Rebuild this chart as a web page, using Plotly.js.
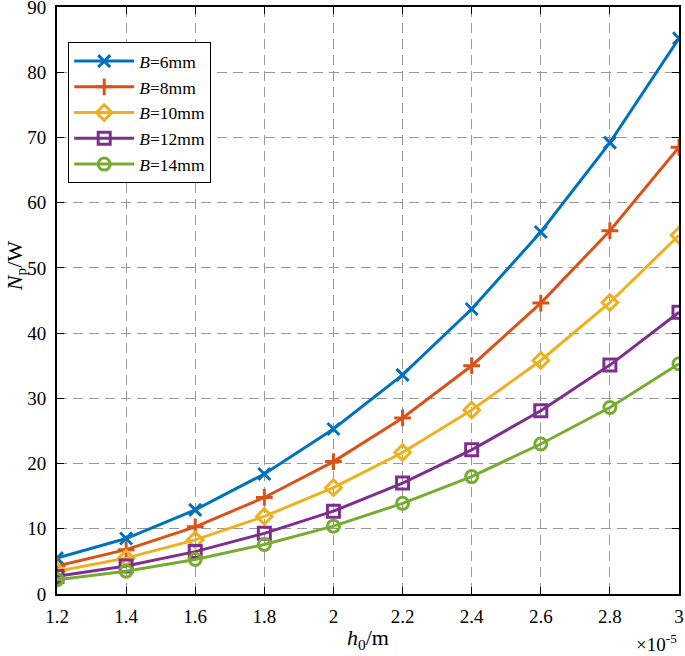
<!DOCTYPE html>
<html>
<head>
<meta charset="utf-8">
<script src="https://cdn.plot.ly/plotly-3.0.1.min.js"></script>
<style>
  html, body { margin: 0; padding: 0; background: #fff; }
  #chart { width: 685px; height: 656px; }
</style>
</head>
<body>
<div id="chart"></div>
<script>
// h0 values, in units of 1e-5 m
const h0 = [1.2, 1.4, 1.6, 1.8, 2.0, 2.2, 2.4, 2.6, 2.8, 3.0];

// Np (W) for each width B
const np6mm  = [5.5, 8.5, 12.9, 18.4, 25.3, 33.6, 43.7, 55.5, 69.2, 85.2];
const np8mm  = [4.3, 6.8, 10.3, 14.8, 20.3, 27.0, 35.0, 44.6, 55.7, 68.5];
const np10mm = [3.5, 5.5, 8.3, 11.9, 16.3, 21.7, 28.2, 35.8, 44.7, 55.0];
const np12mm = [2.7, 4.3, 6.5, 9.3, 12.7, 17.0, 22.1, 28.1, 35.1, 43.2];
const np14mm = [2.2, 3.5, 5.3, 7.6, 10.4, 13.9, 18.0, 23.0, 28.6, 35.3];

const seriesNames = ['6mm', '8mm', '10mm', '12mm', '14mm'];
const seriesVals = [np6mm, np8mm, np10mm, np12mm, np14mm];
const colors = ['#0072BD', '#D95319', '#EDB120', '#7E2F8E', '#77AC30'];
const symbols = ['x-thin-open', 'cross-thin-open', 'diamond-open', 'square-open', 'circle-open'];

const font = 'Liberation Serif, Times New Roman, serif';

const traces = seriesVals.map((vals, i) => ({
    x: h0,
    y: vals,
    name: '<i>B</i>=' + seriesNames[i],
    type: 'scatter',
    mode: 'lines+markers',
    line: {color: colors[i], width: 3},
    marker: {
        symbol: symbols[i],
        size: 12,
        color: colors[i],
        line: {color: colors[i], width: 3}
    }
}));

const axisCommon = {
    showline: true,
    linecolor: '#000',
    linewidth: 2,
    mirror: 'ticks',
    ticks: 'inside',
    ticklen: 7,
    tickcolor: '#000',
    tickwidth: 1.2,
    showgrid: true,
    gridcolor: '#999999',
    griddash: '10px,6px',
    gridwidth: 1.3,
    zeroline: false,
    ticklabeloverflow: 'allow',
    tickfont: {family: font, size: 19, color: '#000'}
};

const layout = {
    width: 685,
    height: 656,
    margin: {l: 57, r: 6, t: 7, b: 62},
    paper_bgcolor: '#fff',
    plot_bgcolor: '#fff',
    font: {family: font, color: '#000'},
    showlegend: true,
    legend: {
        x: 0.018, y: 0.94,
        xanchor: 'left', yanchor: 'top',
        bgcolor: '#fff',
        bordercolor: '#000',
        borderwidth: 1,
        itemwidth: 60,
        tracegroupgap: 0,
        font: {family: font, size: 17.5, color: '#000'}
    },
    xaxis: Object.assign({}, axisCommon, {
        range: [1.2, 3],
        dtick: 0.2,
        tick0: 1.2,
        ticklabelstandoff: 4,
        title: {text: '<i>h</i><sub>0</sub>/m', font: {family: font, size: 22}, standoff: 4}
    }),
    yaxis: Object.assign({}, axisCommon, {
        range: [0, 90],
        dtick: 10,
        ticklabelstandoff: 5
    }),
    annotations: [{
        xref: 'paper', yref: 'paper',
        x: -0.066, y: 0.56,
        xanchor: 'center', yanchor: 'middle',
        textangle: -90,
        showarrow: false,
        text: '<i>N</i><sub>p</sub>/W',
        font: {family: font, size: 22, color: '#000'}
    }, {
        xref: 'paper', yref: 'paper',
        x: 1.0, y: -0.06,
        xanchor: 'right', yanchor: 'top',
        showarrow: false,
        text: '×10<sup>-5</sup>',
        font: {family: font, size: 19, color: '#000'}
    }]
};

Plotly.newPlot('chart', traces, layout, {displayModeBar: false});
</script>
</body>
</html>
